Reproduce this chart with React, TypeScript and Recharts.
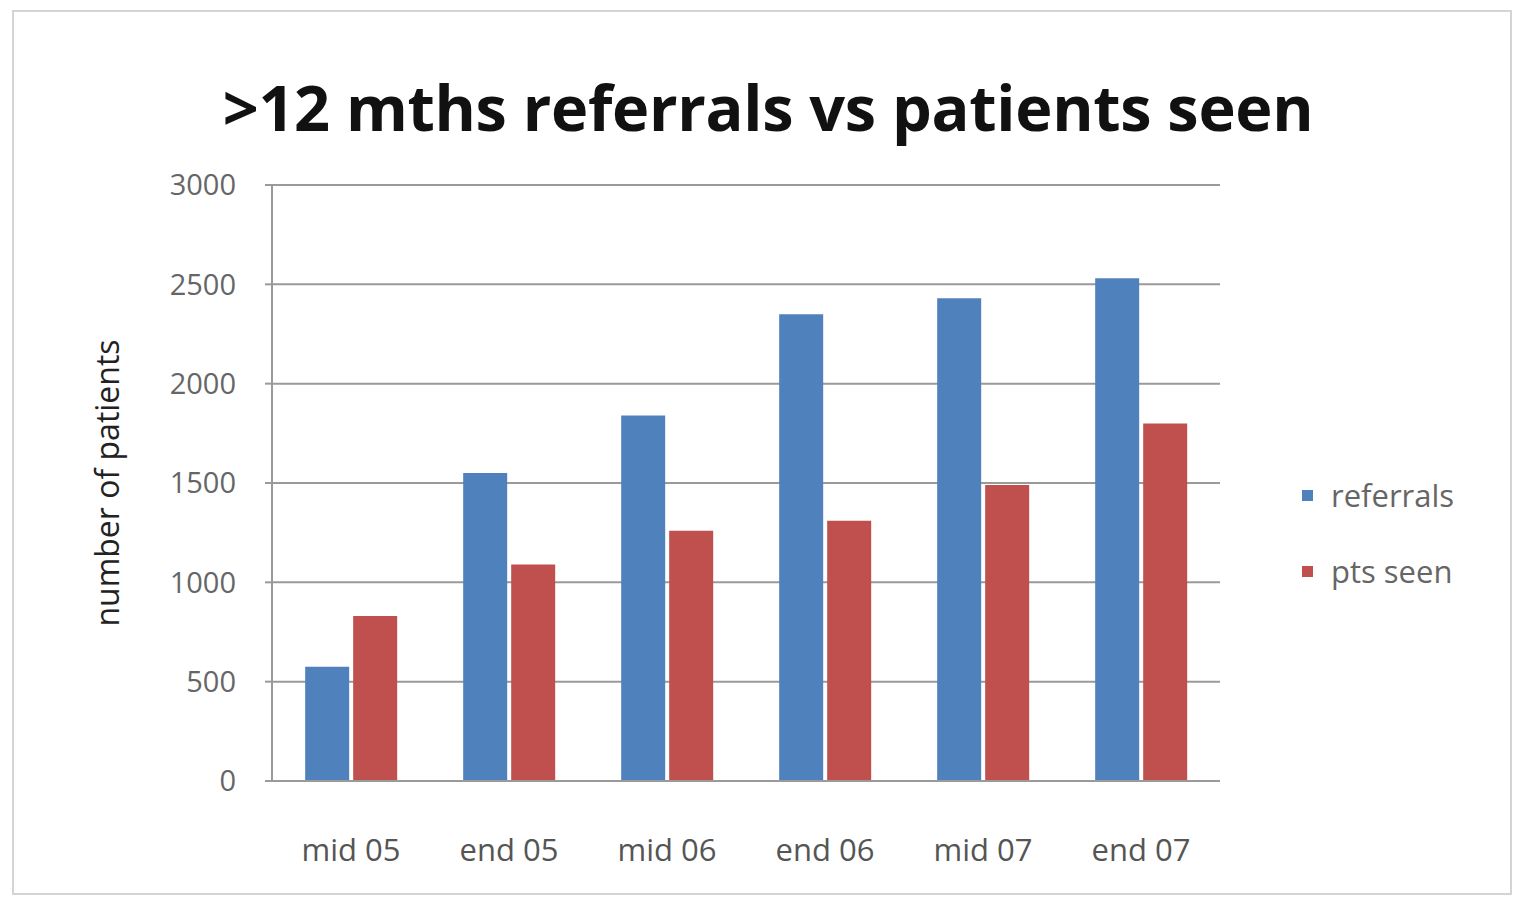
import React from 'react';
import { BarChart, Bar, XAxis, YAxis, CartesianGrid } from 'recharts';

const periods = ['mid 05', 'end 05', 'mid 06', 'end 06', 'mid 07', 'end 07'];
const referrals = [575, 1550, 1840, 2350, 2430, 2530];
const ptsSeen = [830, 1090, 1260, 1310, 1490, 1800];
const yTicks = [0, 500, 1000, 1500, 2000, 2500, 3000];
const legendItems = [
  { label: 'referrals', color: '#4F81BD' },
  { label: 'pts seen', color: '#C0504D' },
];

const data = periods.map((p, i) => ({ period: p, referrals: referrals[i], ptsSeen: ptsSeen[i] }));

const FONT = '"Open Sans", sans-serif';

export default function App() {
  return (
    <div style={{ position: 'relative', width: 1510, height: 898, background: '#fff' }}>
      <div
        style={{
          position: 'absolute', left: 4, top: 2, width: 1500, height: 885,
          border: '2px solid #d4d4d4', boxSizing: 'border-box',
        }}
      />
      <div
        style={{
          position: 'absolute', left: 0, width: 1520, top: 56, textAlign: 'center',
          fontFamily: FONT, fontWeight: 'bold', fontSize: 63, color: '#111', letterSpacing: -0.3,
        }}
      >
        &gt;12 mths referrals vs patients seen
      </div>
      <div style={{ position: 'absolute', left: 1294, top: 466, fontFamily: FONT, fontSize: 31, color: '#666' }}>
        {legendItems.map((it, i) => (
          <div key={it.label} style={{ display: 'flex', alignItems: 'center', marginBottom: i === 0 ? 34 : 0 }}>
            <span style={{ width: 11, height: 11, background: it.color, marginRight: 18 }} />
            {it.label}
          </div>
        ))}
      </div>
      <BarChart
        width={1510}
        height={898}
        data={data}
        margin={{ top: 177, right: 298, bottom: 95, left: 0 }}
        barCategoryGap="21%"
        barGap={4}
        style={{ position: 'absolute', left: 0, top: 0 }}
      >
        <CartesianGrid vertical={false} stroke="#9a9a9a" strokeWidth={2} />
        <XAxis
          dataKey="period"
          stroke="#9a9a9a"
          strokeWidth={2}
          tickLine={false}
          tickMargin={52}
          tick={{ fill: '#555', fontSize: 31, fontFamily: FONT }}
        />
        <YAxis
          width={264}
          domain={[0, 3000]}
          ticks={yTicks}
          stroke="#9a9a9a"
          strokeWidth={2}
          tickSize={7}
          tickMargin={29}
          tick={{ fill: '#666', fontSize: 29, fontFamily: FONT }}
          label={{
            value: 'number of patients', angle: -90, position: 'insideLeft', offset: 100,
            style: { fill: '#222', fontSize: 32, fontFamily: FONT, textAnchor: 'middle' },
          }}
        />
        <Bar dataKey="referrals" name="referrals" fill="#4F81BD" isAnimationActive={false} />
        <Bar dataKey="ptsSeen" name="pts seen" fill="#C0504D" isAnimationActive={false} />
      </BarChart>
    </div>
  );
}
